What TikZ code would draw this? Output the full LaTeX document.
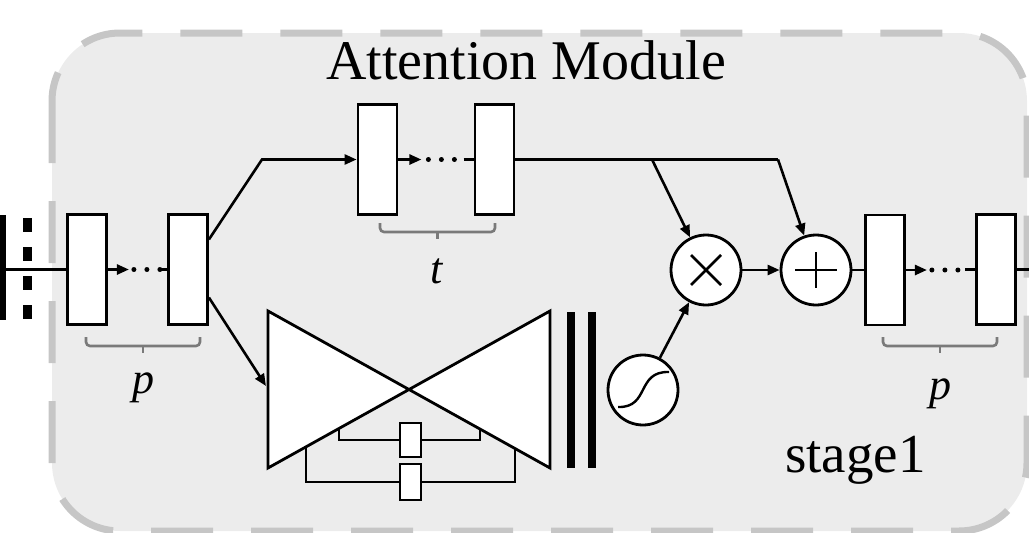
\documentclass[tikz,border=0pt]{standalone}
\usepackage{fontspec}
\setmainfont{Liberation Serif}
\usetikzlibrary{arrows.meta,calc}
\definecolor{panelfill}{HTML}{ECECEC}
\definecolor{panelline}{HTML}{C6C6C6}
\definecolor{bracegray}{HTML}{7A7A7A}
\begin{document}
\begin{tikzpicture}[x=1pt,y=-1pt,
  layer/.style={draw, fill=white, line width=2.8pt, minimum width=39pt, minimum height=110pt, inner sep=0pt},
  small/.style={draw, fill=white, line width=2.2pt, minimum width=21pt, minimum height=34pt, inner sep=0pt},
  op/.style={draw, fill=white, line width=2.8pt, circle, minimum size=70pt, inner sep=0pt},
  conn/.style={line width=2.6pt},
  arr/.style={conn, -{Triangle[length=12pt,width=10pt]}},
  dots/.style={line width=5pt, line cap=round, dash pattern=on 0pt off 13pt},
  grp/.style={draw=bracegray, line width=2.6pt, rounded corners=4pt},
  lbl/.style={font=\fontsize{44}{48}\selectfont\itshape, inner sep=0pt}]
\useasboundingbox (0,0) rectangle (1029,533);

% module panel
\draw[fill=panelfill, draw=panelline, line width=7pt, dash pattern=on 62pt off 38pt,
      rounded corners=68pt] (52,33) rectangle (1027,531);

\node[font=\fontsize{56}{60}\selectfont, anchor=base] (title) at (526,79) {Attention Module};

% input separator
\draw[line width=6.5pt] (3,215) -- (3,320);
\draw[line width=9pt, dash pattern=on 14pt off 15pt] (27.5,218) -- (27.5,322);

% residual units
\node[layer] (b1) at (87,269.5) {};
\node[layer] (b2) at (188,269.5) {};
\node[layer] (b3) at (377.5,159.5) {};
\node[layer] (b4) at (494.5,159.5) {};
\node[layer] (b5) at (885,270) {};
\node[layer] (b6) at (996,269.5) {};

\coordinate (in) at (0,269.5);
\draw[conn] (in) -- (b1.west);

\draw[arr] (b1.east) -- ++(21,0);
\draw[dots] ($(b1.east)+(26,0)$) -- ++(26.2,0);
\draw[conn] ($(b2.west)+(-7,0)$) -- (b2.west);

\draw[arr] (b3.east) -- ++(23,0);
\draw[dots] ($(b3.east)+(30,0)$) -- ++(26.2,0);
\draw[conn] ($(b4.west)+(-10,0)$) -- (b4.west);

\draw[arr] (b5.east) -- ++(21,0);
\draw[dots] ($(b5.east)+(26,0)$) -- ++(26.2,0);
\draw[conn] ($(b6.west)+(-10,0)$) -- (b6.west);

\coordinate (out) at (1029,269.5);
\draw[conn] (b6.east) -- (out);

% trunk branch
\coordinate (up) at (262,159.5);
\draw[arr] ($(b2.east)+(0,-30)$) -- (up) -- (b3.west);

% mask branch: hourglass
\coordinate (Ltop) at (268,311);
\coordinate (Lbot) at (268,468);
\coordinate (Rtop) at (550,311);
\coordinate (Rbot) at (550,468);
\coordinate (apex) at (409,389.5);
\draw[fill=white, line width=2.8pt, line join=miter] (Ltop) -- (Rbot) -- (Rtop) -- (Lbot) -- cycle;

\coordinate (enc) at (266,386);
\draw[arr] ($(b2.east)+(0,28)$) -- (enc);

% skip connections inside the hourglass
\node[small] (s1) at (410.5,440) {};
\node[small, minimum height=36pt] (s2) at (410.5,482) {};
\coordinate (a1) at ($(Lbot)!0.5!(apex)$);
\coordinate (a2) at ($(Rbot)!0.5!(apex)$);
\coordinate (c1) at ($(Lbot)!0.27!(apex)$);
\coordinate (c2) at ($(Rbot)!0.25!(apex)$);
\draw[line width=2pt] (a1) -- (a1 |- s1) -- (s1.west);
\draw[line width=2pt] (s1.east) -- (a2 |- s1) -- (a2);
\draw[line width=2pt] (c1) -- (c1 |- s2) -- (s2.west);
\draw[line width=2pt] (s2.east) -- (c2 |- s2) -- (c2);

% output bars
\draw[line width=8pt] (571,312) -- (571,468);
\draw[line width=8pt] (592,312) -- (592,468);

% sigmoid, product and sum
\node[op] (sig) at (643,390) {};
\draw[line width=2.4pt] (618,407) .. controls (650,408) and (636,371) .. (669,372);
\node[op] (mul) at (706,270) {};
\draw[line width=2.6pt] ($(mul)+(-15,-15)$) -- ($(mul)+(15,15)$);
\draw[line width=2.6pt] ($(mul)+(-15,15)$) -- ($(mul)+(15,-15)$);
\node[op] (add) at (816,270) {};
\draw[line width=2.6pt] ($(add)+(-21,0)$) -- ($(add)+(21,0)$);
\draw[line width=2.6pt] ($(add)+(0,-18)$) -- ($(add)+(0,18)$);

\coordinate (split) at (652,159.5);
\coordinate (bend) at (778,159.5);
\draw[conn] (b4.east) -- (bend);
\draw[arr] (split) -- (mul);
\draw[arr] (bend) -- (add);
\draw[arr] (sig) -- (mul);
\draw[arr] (mul) -- (add);
\draw[conn] (add) -- (b5);

% group brackets and labels
\draw[grp] (86,337) -- (86,346) -- (200,346) -- (200,337);
\draw[grp, rounded corners=0pt] (143,346) -- (143,353);
\draw[grp] (380,223) -- (380,232) -- (495,232) -- (495,223);
\draw[grp, rounded corners=0pt] (437.5,232) -- (437.5,239);
\draw[grp] (883,337) -- (883,346) -- (997,346) -- (997,337);
\draw[grp, rounded corners=0pt] (940,346) -- (940,353);
\node[lbl, anchor=base] (pl) at (143,393) {p};
\node[lbl, anchor=base] (tl) at (437,283) {t};
\node[lbl, anchor=base] (pr) at (940,399) {p};
\node[font=\fontsize{55}{60}\selectfont, anchor=base west, inner sep=0pt] (stage) at (785,472) {stage1};
\end{tikzpicture}
\end{document}
